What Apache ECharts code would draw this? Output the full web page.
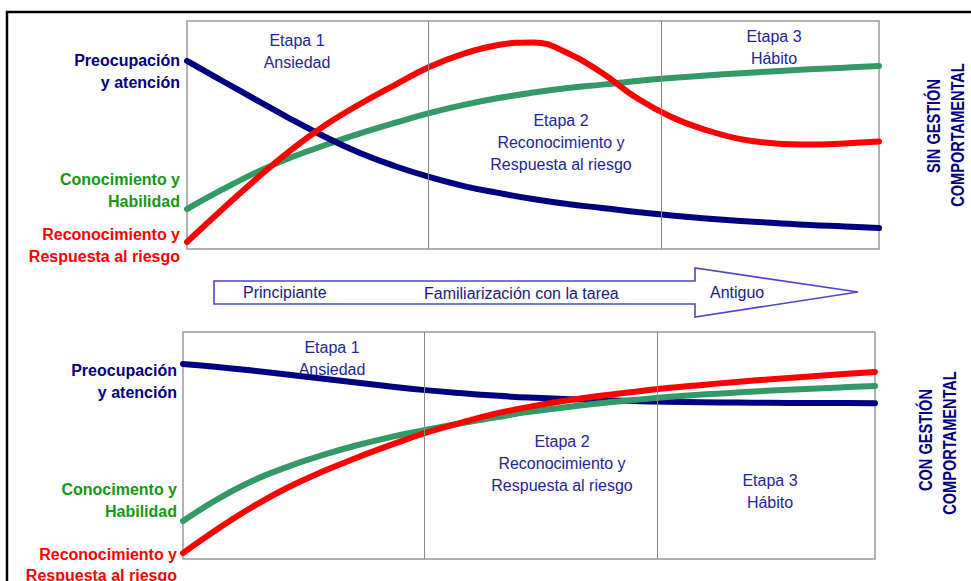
<!DOCTYPE html>
<html><head><meta charset="utf-8">
<script src="https://cdn.jsdelivr.net/npm/echarts@6/dist/echarts.min.js"></script>
<style>html,body{margin:0;padding:0;background:#fff}#c{width:971px;height:581px}</style>
</head><body><div id="c"></div>
<script>
// x positions (percent of the stage timeline)
const xPos = [0,5,10,15,20,25,30,35,40,45,50,55,60,65,70,75,80,85,90,95,100];
// stage boundaries (percent of timeline)
const stageBounds = [34.8, 68.6];

// SIN GESTIÓN COMPORTAMENTAL (top panel), level 0-100
const sinPreocupacion = [82.5,73.9,65.4,57.0,49.1,42.1,36.4,31.6,27.6,24.6,21.9,19.7,18.0,16.2,14.7,13.4,12.3,11.4,10.5,9.9,9.2];
const sinConocimiento = [17.5,25.9,33.6,40.1,45.6,50.7,55.3,59.6,63.2,66.2,68.6,70.6,72.1,73.7,75.0,76.1,77.1,78.0,78.8,79.5,80.3];
const sinReconocimiento = [3.1,17.1,30.7,43.4,54.4,63.6,71.9,79.8,85.7,89.5,90.6,86.0,77.2,66.2,57.9,52.2,48.2,46.3,45.8,46.3,47.1];

// CON GESTIÓN COMPORTAMENTAL (bottom panel), level 0-100
const conPreocupacion = [85.9,84.6,83.0,81.3,79.5,77.8,76.0,74.4,73.1,72.0,71.1,70.5,70.0,69.6,69.3,69.1,68.9,68.8,68.7,68.7,68.6];
const conConocimiento = [16.7,26.4,34.4,40.5,45.6,50.0,53.7,56.8,59.7,62.3,64.8,66.7,68.5,70.0,71.4,72.5,73.3,74.2,74.9,75.6,76.2];
const conReconocimiento = [2.6,13.2,22.9,31.3,38.3,44.5,50.2,55.5,59.9,63.9,67.0,69.6,71.8,73.6,75.3,76.7,78.0,79.2,80.3,81.4,82.4];

// texts
const seriesLabelsTop = [["Preocupación","y atención"],["Conocimiento y","Habilidad"],["Reconocimiento y","Respuesta al riesgo"]];
const seriesLabelsBottom = [["Preocupación","y atención"],["Conocimento y","Habilidad"],["Reconocimiento y","Respuesta al riesgo"]];
const stageLabels = [["Etapa 1","Ansiedad"],["Etapa 2","Reconocimiento y","Respuesta al riesgo"],["Etapa 3","Hábito"]];
const arrowLabels = ["Principiante","Familiarización con la tarea","Antiguo"];
const panelTitles = [["SIN GESTIÓN","COMPORTAMENTAL"],["CON GESTIÓN","COMPORTAMENTAL"]];

const FONT = '"Liberation Sans", Arial, sans-serif';
const colors = {blue:'#000080', green:'#339966', red:'#ff0000'};
const labelColors = ['#000080','#119911','#ff0000'];
const stageColor = '#24249c';

const pair = arr => xPos.map((x,i)=>[x,arr[i]]);

function curve(name, data, color, gi){
  return {type:'line', name, xAxisIndex:gi, yAxisIndex:gi, data:pair(data), smooth:0.45,
    showSymbol:false, clip:false, z:3, lineStyle:{color, width:6, cap:'round', join:'round'}, silent:true};
}
function dividers(gi){
  return {type:'line', xAxisIndex:gi, yAxisIndex:gi, data:[], z:1, silent:true,
    markLine:{symbol:'none', silent:true, animation:false, label:{show:false},
      lineStyle:{color:'#8a8a8a', width:1, type:'solid'},
      data: stageBounds.map(v=>({xAxis:v}))}};
}

const graphics = [];
function txt(text, x, y, font, fill, align){
  graphics.push({type:'text', silent:true, z:10,
    style:{text, x, y, font, fill, textAlign:align||'center', textVerticalAlign:'middle'}});
}
function rtxt(text, x, y, font, fill){
  graphics.push({type:'text', silent:true, z:10, x, y, rotation:Math.PI/2, scaleX:0.81,
    style:{text, x:0, y:0, font, fill, textAlign:'center', textVerticalAlign:'middle'}});
}
// outer frame
graphics.push({type:'polyline', silent:true, shape:{points:[[7,582],[7,12],[972,12]]}, style:{stroke:'#000', lineWidth:2.5, fill:null}});

// left labels
const leftTop = [[60,82],[179,201],[234,256]];
const leftBottom = [[370,392],[489,511],[554,575]];
seriesLabelsTop.forEach((l,i)=>l.forEach((t,j)=>txt(t,180,leftTop[i][j],'bold 16px '+FONT,labelColors[i],'right')));
seriesLabelsBottom.forEach((l,i)=>l.forEach((t,j)=>txt(t,177,leftBottom[i][j],'bold 16px '+FONT,labelColors[i],'right')));

// stage labels
const stagePosTop = [[297,40],[561,120],[774,36]];
const stagePosBottom = [[332,347],[562,441],[770,480]];
stageLabels.forEach((l,i)=>l.forEach((t,j)=>{
  txt(t, stagePosTop[i][0], stagePosTop[i][1]+j*22, '16px '+FONT, stageColor);
  txt(t, stagePosBottom[i][0], stagePosBottom[i][1]+j*22, '16px '+FONT, stageColor);
}));

// arrow
graphics.push({type:'polygon', silent:true, z:5,
  shape:{points:[[214,281],[695,281],[695,268],[858,292],[695,317],[695,304],[214,304]]},
  style:{fill:'#fff', stroke:'#4848cc', lineWidth:1.6}});
txt(arrowLabels[0], 243, 292, '16px '+FONT, '#1a1a80', 'left');
txt(arrowLabels[1], 424, 293, '16px '+FONT, '#1a1a80', 'left');
txt(arrowLabels[2], 710, 292, '16px '+FONT, '#1a1a80', 'left');

// rotated panel titles
const titlePos = [[[933,126],[957,135]],[[925,440],[949,443]]];
panelTitles.forEach((p,i)=>p.forEach((t,j)=>{
  rtxt(t, titlePos[i][j][0], titlePos[i][j][1], 'bold 18px '+FONT, '#000080');
}));

const chart = echarts.init(document.getElementById('c'), null, {renderer:'svg'});
chart.setOption({
  animation:false,
  backgroundColor:'#fff',
  grid:[
    {left:187, top:21, width:692, height:228, show:true, borderColor:'#9a9a9a', borderWidth:1.5},
    {left:183, top:332, width:692, height:227, show:true, borderColor:'#9a9a9a', borderWidth:1.5}
  ],
  xAxis:[
    {gridIndex:0, type:'value', min:0, max:100, show:false},
    {gridIndex:1, type:'value', min:0, max:100, show:false}
  ],
  yAxis:[
    {gridIndex:0, type:'value', min:0, max:100, show:false},
    {gridIndex:1, type:'value', min:0, max:100, show:false}
  ],
  series:[
    dividers(0), dividers(1),
    curve('Conocimiento y Habilidad', sinConocimiento, colors.green, 0),
    curve('Preocupación y atención', sinPreocupacion, colors.blue, 0),
    curve('Reconocimiento y Respuesta al riesgo', sinReconocimiento, colors.red, 0),
    curve('Preocupación y atención', conPreocupacion, colors.blue, 1),
    curve('Conocimento y Habilidad', conConocimiento, colors.green, 1),
    curve('Reconocimiento y Respuesta al riesgo', conReconocimiento, colors.red, 1)
  ],
  graphic: graphics
});
</script></body></html>
